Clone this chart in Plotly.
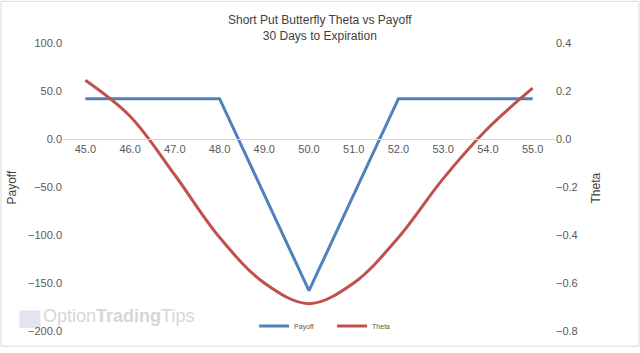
import plotly.graph_objects as go

strikes = [45.0, 46.0, 47.0, 48.0, 49.0, 50.0, 51.0, 52.0, 53.0, 54.0, 55.0]
payoff = [42, 42, 42, 42, -58, -158, -58, 42, 42, 42, 42]
theta = [0.245, 0.095, -0.15, -0.41, -0.60, -0.686, -0.60, -0.41, -0.165, 0.045, 0.212]

W, H = 640, 353
L, R, T, B = 62.6, 84.6, 43, 16
pw = W - L - R
ph = H - T - B

def px(x):
    return (x - L) / pw

def py(y):
    return (H - B - y) / ph

font = "Liberation Sans, Arial, sans-serif"
tick_col = "#595959"

fig = go.Figure()
fig.add_trace(go.Scatter(x=strikes, y=payoff, name="Payoff", mode="lines",
                         line=dict(color="#4F81BD", width=3), yaxis="y"))
fig.add_trace(go.Scatter(x=strikes, y=theta, name="Theta", mode="lines",
                         line=dict(color="#C0504D", width=3, shape="spline", smoothing=1.0),
                         yaxis="y2"))

fig.update_layout(
    width=W, height=H,
    margin=dict(l=L, r=R, t=T, b=B),
    paper_bgcolor="white", plot_bgcolor="white",
    font=dict(family=font, size=11, color=tick_col),
    xaxis=dict(range=[44.5, 55.5], tickmode="array", tickvals=strikes,
               ticktext=[f"{s:.1f}" for s in strikes],
               showgrid=False, zeroline=False, showline=True, linecolor="#D9D9D9",
               linewidth=1, ticks="", anchor="free", position=py(141),
               tickfont=dict(size=11, color=tick_col)),
    yaxis=dict(range=[-200, 100], dtick=50, tickformat=".1f", showgrid=False,
               zeroline=False, showline=False, ticks="", tickfont=dict(size=11, color=tick_col)),
    yaxis2=dict(range=[-0.8, 0.4], dtick=0.2, tickformat=".1f", overlaying="y", side="right",
                showgrid=False, zeroline=False, showline=False, ticks="",
                tickfont=dict(size=11, color=tick_col)),
    showlegend=True,
    legend=dict(orientation="h", x=px(254), y=py(332), xanchor="left", yanchor="middle",
                font=dict(size=7, color=tick_col), bgcolor="rgba(0,0,0,0)",
                entrywidth=33, entrywidthmode="pixels", tracegroupgap=0),
)

fig.add_annotation(text="Short Put Butterfly Theta vs Payoff<br>30 Days to Expiration",
                   xref="paper", yref="paper", x=px(320), y=py(28), showarrow=False,
                   xanchor="center", yanchor="middle",
                   font=dict(size=12, color="#404040", family=font), align="center")
fig.add_annotation(text="Payoff", xref="paper", yref="paper", x=px(12), y=py(190),
                   xanchor="center", yanchor="middle",
                   showarrow=False, textangle=-90, font=dict(size=12, color="#404040", family=font))
fig.add_annotation(text="Theta", xref="paper", yref="paper", x=px(596), y=py(191),
                   xanchor="center", yanchor="middle",
                   showarrow=False, textangle=-90, font=dict(size=12, color="#404040", family=font))
fig.add_annotation(text="Option<b>Trading</b>Tips", xref="paper", yref="paper",
                   x=px(41), y=py(322), xanchor="left", yanchor="middle", showarrow=False,
                   font=dict(size=18, color="#D6D6D6", family=font))
fig.add_shape(type="rect", xref="paper", yref="paper", x0=px(19), x1=px(40),
              y0=py(334), y1=py(316), fillcolor="#E2E5EE", line=dict(width=0), layer="below")
fig.add_shape(type="rect", xref="paper", yref="paper", x0=px(0.5), x1=px(639.5),
              y0=py(352.5), y1=py(0.5), line=dict(color="#D9D9D9", width=1),
              fillcolor="rgba(0,0,0,0)")

fig.write_html("out.html")
